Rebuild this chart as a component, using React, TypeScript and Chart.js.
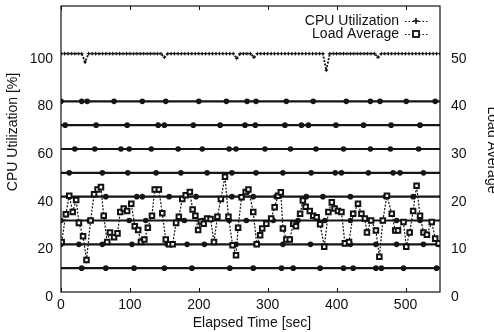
import React, { useEffect, useRef } from "react";
import { Chart, registerables } from "chart.js";

Chart.register(...registerables);

const W = 494;
const H = 332;
const FONT = '"Liberation Sans", Arial, Helvetica, sans-serif';

// ---- axes ----
const xTicks = [0, 100, 200, 300, 400, 500];
const leftTicks = [0, 20, 40, 60, 80, 100];
const rightTicks = [0, 10, 20, 30, 40, 50];
const seriesNames = ["CPU Utilization", "Load Average"];

// ---- CPU utilization [%], sampled every 5 s from 0 to 550 s ----
const cpuInterval = 5;
const cpuValues = [
  100, 100, 100, 100, 100, 100, 100, 96.5, 100, 100,
  100, 100, 100, 100, 100, 100, 100, 100, 100, 100,
  100, 100, 100, 100, 100, 100, 100, 100, 100, 100,
  98.5, 100, 100, 100, 100, 100, 100, 100, 100, 100,
  100, 100, 100, 100, 100, 100, 100, 100, 100, 100,
  100, 98, 100, 100, 100, 100, 98.5, 100, 100, 100,
  100, 100, 100, 100, 100, 100, 100, 100, 100, 100,
  100, 100, 100, 100, 100, 100, 100, 93, 100, 100,
  100, 100, 100, 100, 100, 100, 100, 100, 100, 100,
  100, 100, 98.5, 100, 100, 100, 100, 100, 100, 100,
  100, 100, 100, 100, 100, 100, 100, 100, 100, 100,
  100,
];

// ---- Load average (right axis) ----
const loadTimes = [
  1, 7, 12, 17, 22, 26, 32, 37, 43, 48, 53, 58, 62, 67, 71, 77, 82, 86, 91, 96,
  102, 107, 112, 116, 121, 126, 132, 136, 142, 147, 152, 157, 162, 167, 171, 176,
  181, 187, 191, 195, 199, 203, 207, 212, 217, 222, 227, 232, 238, 243, 249, 254,
  257, 262, 268, 272, 279, 284, 289, 292, 298, 305, 310, 315, 319, 322, 327, 332,
  337, 341, 347, 351, 355, 361, 366, 371, 376, 382, 388, 393, 397, 402, 407, 412,
  418, 424, 431, 436, 441, 444, 450, 457, 462, 467, 473, 480, 485, 489, 497, 501,
  506, 511, 516, 521, 526, 531, 538, 543, 548,
];
const loadValues = [
  10.5, 16.3, 20.2, 16.8, 19.3, 14.5, 11.7, 6.7, 15, 20.5, 21.5, 22, 16, 10.5, 12.5, 11.5, 12.3, 16.8, 17.5, 17,
  18.5, 13.8, 13, 10.5, 11, 13.5, 16, 21.5, 21.5, 16.5, 11, 10, 10, 14.5, 15.8, 19.5,
  20.3, 21, 17.3, 16, 13, 14.8, 14.3, 15.4, 15.3, 10.5, 15.8, 19.5, 24.2, 15.8, 9.8, 7.7,
  13.5, 19.9, 21, 21.5, 16.8, 10, 11.9, 13.3, 14.3, 15.4, 17.8, 20.2, 20.9, 13.3, 11, 11,
  14.3, 13.8, 16.4, 19.2, 17.9, 17, 16, 15.7, 14.2, 9.5, 16.8, 18.8, 17.5, 17, 16.8, 10.2,
  10.5, 16.4, 18.5, 16.4, 15.4, 12.5, 15, 12.9, 7.4, 15, 20.2, 16.4, 12.9, 12.9, 14.7, 9.5,
  12.5, 17, 22.3, 16, 12.5, 12, 14.7, 11.2, 10.2,
];

// ---- constant level lines (left axis) and where their markers sit [s] ----
const levelValues = [80, 70, 60, 50, 40, 30, 20, 10];
const levelMarks = [
  [0, 30, 38, 77, 118, 152, 200, 240, 270, 283, 327, 366, 414, 449, 463, 501, 543],
  [6, 51, 96, 141, 150, 192, 231, 267, 282, 325, 349, 359, 399, 439, 479, 521],
  [20, 49, 87, 99, 131, 170, 205, 244, 254, 296, 333, 370, 410, 449, 478, 519],
  [12, 60, 97, 138, 174, 212, 248, 283, 322, 363, 398, 407, 446, 482, 492, 526],
  [12, 65, 110, 118, 157, 196, 248, 279, 312, 356, 380, 420, 471, 511],
  [0, 41, 99, 123, 179, 205, 244, 269, 308, 344, 383, 420, 449, 487, 521],
  [0, 26, 60, 103, 154, 183, 208, 254, 283, 322, 362, 420, 457, 487, 526, 548],
  [30, 65, 106, 150, 190, 245, 279, 320, 337, 376, 410, 424, 457, 465, 497, 545],
];
const xMax = 550;

const decorPlugin = {
  id: "decor",
  afterDraw(chart: any) {
    const { ctx, chartArea: a, scales } = chart;
    const xs = scales.x;
    const yl = scales.y;
    const yr = scales.y2;
    ctx.save();
    ctx.strokeStyle = "#111";
    ctx.lineWidth = 1.2;
    ctx.strokeRect(a.left, a.top, a.right - a.left, a.bottom - a.top);

    // inward x ticks, bottom and top
    ctx.lineWidth = 1;
    xTicks.forEach((v) => {
      const px = Math.round(xs.getPixelForValue(v)) + 0.5;
      ctx.beginPath();
      ctx.moveTo(px, a.bottom);
      ctx.lineTo(px, a.bottom - 4);
      ctx.moveTo(px, a.top);
      ctx.lineTo(px, a.top + 4);
      ctx.stroke();
    });

    ctx.fillStyle = "#111";
    ctx.font = `14px ${FONT}`;
    ctx.textBaseline = "middle";
    // left tick labels
    ctx.textAlign = "right";
    leftTicks.forEach((v) => {
      ctx.fillText(String(v), a.left - 8, yl.getPixelForValue(v) + 5);
    });
    // right tick labels
    ctx.textAlign = "left";
    rightTicks.forEach((v) => {
      ctx.fillText(String(v), a.right + 11, yr.getPixelForValue(v) + 5);
    });
    // x tick labels
    ctx.textAlign = "center";
    xTicks.forEach((v) => {
      ctx.fillText(String(v), xs.getPixelForValue(v), a.bottom + 13);
    });

    // axis titles
    ctx.fillText("Elapsed Time [sec]", 252, 323);
    ctx.save();
    ctx.translate(13, 132);
    ctx.rotate(-Math.PI / 2);
    ctx.fillText("CPU Utilization [%]", 0, 0);
    ctx.restore();
    ctx.save();
    ctx.translate(488, 150);
    ctx.rotate(Math.PI / 2);
    ctx.textBaseline = "alphabetic";
    ctx.fillText("Load Average", 0, 0);
    ctx.restore();

    // legend
    ctx.textAlign = "right";
    ctx.textBaseline = "middle";
    const ly = [21, 34];
    ctx.fillText(seriesNames[0], 399, ly[0]);
    ctx.fillText(seriesNames[1], 399, ly[1]);
    ctx.setLineDash([1.5, 2]);
    ctx.lineWidth = 1.2;
    ly.forEach((y) => {
      ctx.beginPath();
      ctx.moveTo(405, y + 0.5);
      ctx.lineTo(428, y + 0.5);
      ctx.stroke();
    });
    ctx.setLineDash([]);
    ctx.lineWidth = 1.5;
    ctx.beginPath();
    ctx.moveTo(413, ly[0]);
    ctx.lineTo(419, ly[0]);
    ctx.moveTo(416, ly[0] - 3);
    ctx.lineTo(416, ly[0] + 3);
    ctx.stroke();
    ctx.lineWidth = 1.8;
    ctx.fillStyle = "#fff";
    ctx.fillRect(413, ly[1] - 3, 6, 6);
    ctx.strokeRect(413, ly[1] - 3, 6, 6);
    ctx.restore();
  },
};

export default function App() {
  const ref = useRef<HTMLCanvasElement | null>(null);
  useEffect(() => {
    if (!ref.current) return;
    const levelSets = levelValues.map((lv, i) => {
      const pts = [0, ...levelMarks[i], xMax].map((x) => ({ x, y: lv }));
      const last = pts.length - 1;
      return {
        label: "level" + lv,
        data: pts,
        yAxisID: "y",
        borderColor: "#151515",
        borderWidth: 2.2,
        backgroundColor: "#151515",
        pointStyle: "circle",
        pointRadius: (c: any) => (c.index === 0 || c.index === last ? 0 : 2.8),
        pointBorderWidth: 0,
        showLine: true,
        order: 3,
      };
    });
    const cpu = {
      label: seriesNames[0],
      data: cpuValues.map((v, i) => ({ x: i * cpuInterval, y: v })),
      yAxisID: "y",
      borderColor: "#111",
      borderWidth: 1.8,
      borderDash: [2, 1.5],
      backgroundColor: "#111",
      pointStyle: "cross",
      pointRadius: 1.8,
      pointBorderWidth: 1,
      pointBorderColor: "#111",
      order: 2,
    };
    const load = {
      label: seriesNames[1],
      data: loadTimes.map((t, i) => ({ x: t, y: loadValues[i] })),
      yAxisID: "y2",
      borderColor: "#111",
      borderWidth: 1.2,
      borderDash: [2, 1.5],
      backgroundColor: "#fff",
      pointStyle: "rect",
      pointRadius: 3.2,
      pointBorderWidth: 2,
      pointBorderColor: "#111",
      order: 1,
    };
    const chart = new Chart(ref.current, {
      type: "line",
      data: { datasets: [...levelSets, cpu, load] as any },
      options: {
        responsive: false,
        animation: false,
        devicePixelRatio: 1,
        layout: { padding: { top: 4, left: 0, right: 0, bottom: 0 } },
        plugins: { legend: { display: false }, tooltip: { enabled: false } },
        elements: { line: { tension: 0 } },
        scales: {
          x: {
            type: "linear",
            min: 0,
            max: xMax,
            ticks: { display: false },
            grid: { display: false },
            border: { display: false },
            afterFit: (s: any) => {
              s.height = 40;
            },
          },
          y: {
            type: "linear",
            position: "left",
            min: 0,
            max: 120,
            ticks: { display: false },
            grid: { display: false },
            border: { display: false },
            afterFit: (s: any) => {
              s.width = 61;
            },
          },
          y2: {
            type: "linear",
            position: "right",
            min: 0,
            max: 60,
            ticks: { display: false },
            grid: { display: false },
            border: { display: false },
            afterFit: (s: any) => {
              s.width = 54;
            },
          },
        },
      } as any,
      plugins: [decorPlugin],
    });
    return () => chart.destroy();
  }, []);
  return (
    <div style={{ position: "absolute", left: 0, top: 0, width: W, height: H, background: "#fff" }}>
      <canvas ref={ref} width={W} height={H} style={{ width: W, height: H, display: "block" }} />
    </div>
  );
}
